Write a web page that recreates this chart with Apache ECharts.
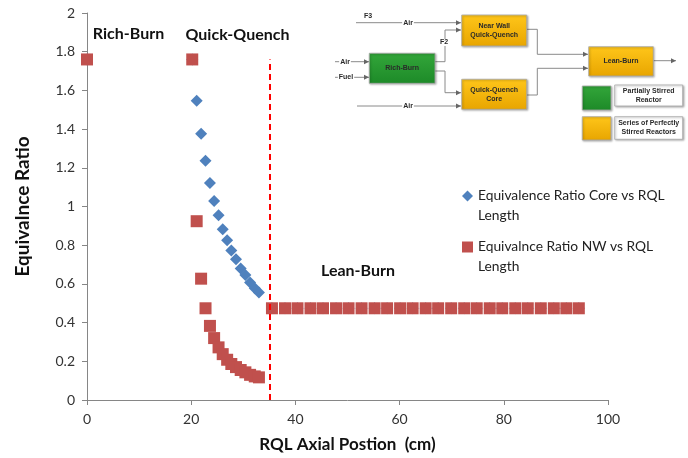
<!DOCTYPE html>
<html>
<head>
<meta charset="utf-8">
<script src="https://cdn.jsdelivr.net/npm/echarts@6/dist/echarts.min.js"></script>
<style>html,body{margin:0;padding:0;background:#fff}#c{width:688px;height:458px}</style>
</head>
<body>
<div id="c"></div>
<script>
// Positions along the RQL (cm)
var xRich = [0];
var xQuench = [20.2, 21.05, 21.9, 22.75, 23.6, 24.4, 25.25, 26.05, 26.9, 27.7, 28.6, 29.5, 30.4, 31.3, 32.2, 33.0];
var xLean = [35.5, 38.0, 40.4, 42.9, 45.3, 47.8, 50.2, 52.7, 55.2, 57.6, 60.1, 62.5, 65.0, 67.4, 69.9, 72.4, 74.8, 77.3, 79.7, 82.2, 84.6, 87.1, 89.6, 92.0, 94.4];

// Equivalence ratios
var coreRich = [1.76];
var coreQuench = [1.76, 1.546, 1.376, 1.237, 1.122, 1.029, 0.955, 0.883, 0.826, 0.773, 0.727, 0.679, 0.646, 0.607, 0.577, 0.555];
var coreLean = [0.474, 0.474, 0.474, 0.474, 0.474, 0.474, 0.474, 0.474, 0.474, 0.474, 0.474, 0.474, 0.474, 0.474, 0.474, 0.474, 0.474, 0.474, 0.474, 0.474, 0.474, 0.474, 0.474, 0.474, 0.474];
var nwRich = [1.76];
var nwQuench = [1.76, 0.924, 0.627, 0.474, 0.383, 0.320, 0.272, 0.237, 0.208, 0.186, 0.170, 0.155, 0.143, 0.130, 0.122, 0.117];
var nwLean = [0.474, 0.474, 0.474, 0.474, 0.474, 0.474, 0.474, 0.474, 0.474, 0.474, 0.474, 0.474, 0.474, 0.474, 0.474, 0.474, 0.474, 0.474, 0.474, 0.474, 0.474, 0.474, 0.474, 0.474, 0.474];

var boundaryX = 35;
var boundaryTop = 1.76;

var xTicks = {min: 0, max: 100, interval: 20};
var yTicks = {min: 0, max: 2, interval: 0.2};

var coreName = 'Equivalence Ratio Core vs RQL Length';
var nwName = 'Equivalnce Ratio NW vs RQL Length';

function pairs(xs, ys) { return xs.map(function (x, i) { return [x, ys[i]]; }); }
var coreData = pairs(xRich, coreRich).concat(pairs(xQuench, coreQuench), pairs(xLean, coreLean));
var nwData = pairs(xRich, nwRich).concat(pairs(xQuench, nwQuench), pairs(xLean, nwLean));

var FONT = 'Lato';
var LINE = '#8a8a8a';

// ---------- flow diagram graphics ----------
var g = [];
function orangeFill() {
  return {type: 'linear', x: 0, y: 0, x2: 0, y2: 1, colorStops: [{offset: 0, color: '#ffc61a'}, {offset: 1, color: '#e8a500'}]};
}
function greenFill() {
  return {type: 'linear', x: 0, y: 0, x2: 0, y2: 1, colorStops: [{offset: 0, color: '#33a63a'}, {offset: 1, color: '#1d8a28'}]};
}
function box(x, y, w, h, fill, text, stroke) {
  g.push({type: 'rect', shape: {x: x, y: y, width: w, height: h}, z: 100,
    style: {fill: fill, stroke: stroke || '#a8a8a8', lineWidth: 0.8, shadowBlur: 2, shadowOffsetX: 1, shadowOffsetY: 1, shadowColor: 'rgba(0,0,0,0.3)'}});
  if (text) {
    g.push({type: 'text', x: x + w / 2, y: y + h / 2, z: 101,
      style: {text: text, fill: '#2a2a2a', font: 'bold 7px "Liberation Sans", Arial', align: 'center', verticalAlign: 'middle', lineHeight: 9}});
  }
}
function wire(points, arrow) {
  g.push({type: 'polyline', shape: {points: points}, z: 99, style: {stroke: LINE, lineWidth: 1, fill: null}});
  if (arrow) {
    var p = points[points.length - 1];
    g.push({type: 'polygon', shape: {points: [[p[0], p[1]], [p[0] - 5, p[1] - 2.5], [p[0] - 5, p[1] + 2.5]]}, z: 99, style: {fill: '#666'}});
  }
}
function label(x, y, t, bg) {
  g.push({type: 'text', x: x, y: y, z: 102,
    style: {text: t, fill: '#2a2a2a', font: 'bold 7px "Liberation Sans", Arial', align: 'center', verticalAlign: 'middle',
      backgroundColor: bg ? '#fff' : null, padding: bg ? [0, 1] : 0}});
}

// wires
wire([[356, 22.7], [461, 22.7]], true);
label(368, 16.5, 'F3', false);
label(408, 22.7, 'Air', true);
wire([[335, 61.7], [369, 61.7]], true);
label(345, 61.7, 'Air', true);
wire([[335, 77.3], [369, 77.3]], true);
label(346, 77.3, 'Fuel', true);
wire([[435, 61.7], [445, 61.7], [445, 30], [461, 30]], true);
label(444, 42.5, 'F2', true);
wire([[435, 71], [445, 71], [445, 92.7], [461, 92.7]], true);
wire([[357, 106], [461, 106]], true);
label(408, 106, 'Air', true);
wire([[527, 29.3], [537.3, 29.3], [537.3, 54.3], [588, 54.3]], true);
wire([[527, 95], [537.3, 95], [537.3, 68.3], [588, 68.3]], true);
wire([[653.5, 60.7], [676, 60.7]], true);

// boxes
box(461.7, 15, 65, 31, orangeFill(), 'Near Wall\nQuick-Quench');
box(369.3, 53.3, 65.7, 30, greenFill(), 'Rich-Burn');
box(461.7, 79.3, 65, 30, orangeFill(), 'Quick-Quench\nCore');
box(588.7, 46.7, 64.6, 29.3, orangeFill(), 'Lean-Burn');
box(582.3, 86, 28.7, 24, greenFill(), '');
box(614.7, 85, 68, 21, '#fff', 'Partially Stirred\nReactor');
box(582.3, 116.7, 28.7, 23.3, orangeFill(), '');
box(614.7, 116.7, 68, 22.6, '#fff', 'Series of Perfectly\nStirred Reactors');

// region annotations
function note(x, y, t) {
  g.push({type: 'text', x: x, y: y, z: 50,
    style: {text: t, fill: '#111', font: 'bold 16px ' + FONT, align: 'center', verticalAlign: 'middle'}});
}
note(128.5, 34, 'Rich-Burn');
note(237.5, 35, 'Quick-Quench');
note(358, 271, 'Lean-Burn');

var chart = echarts.init(document.getElementById('c'), null, {renderer: 'canvas'});
chart.setOption({
  animation: false,
  backgroundColor: '#fff',
  grid: {left: 87, right: 80, top: 13, bottom: 57, containLabel: false},
  xAxis: {
    type: 'value', min: xTicks.min, max: xTicks.max, interval: xTicks.interval,
    name: 'RQL Axial Postion  (cm)', nameLocation: 'middle', nameGap: 36,
    nameTextStyle: {fontFamily: FONT, fontWeight: 'bold', fontSize: 17, color: '#111'},
    axisLine: {show: true, lineStyle: {color: '#868686'}},
    axisTick: {show: true, length: 5, lineStyle: {color: '#868686'}},
    axisLabel: {fontFamily: FONT, fontSize: 14, color: '#333', margin: 12},
    splitLine: {show: false}
  },
  yAxis: {
    type: 'value', min: yTicks.min, max: yTicks.max, interval: yTicks.interval,
    name: 'Equivalnce Ratio', nameLocation: 'middle', nameGap: 55,
    nameTextStyle: {fontFamily: FONT, fontWeight: 'bold', fontSize: 19, color: '#111'},
    axisLine: {show: true, lineStyle: {color: '#868686'}},
    axisTick: {show: true, length: 5, lineStyle: {color: '#868686'}},
    axisLabel: {fontFamily: FONT, fontSize: 14, color: '#333', margin: 12},
    splitLine: {show: false}
  },
  legend: {
    orient: 'vertical', left: 462, top: 166, padding: 0, itemGap: -9,
    itemWidth: 11, itemHeight: 11,
    formatter: function (n) { return ' \n' + n.replace(/ Length$/, '\nLength'); },
    textStyle: {fontFamily: FONT, fontSize: 13.8, color: '#222', lineHeight: 20},
    data: [{name: coreName, icon: 'diamond'}, {name: nwName, icon: 'rect'}]
  },
  graphic: g,
  series: [
    {
      name: coreName, type: 'scatter', data: coreData, symbol: 'diamond', symbolSize: 12,
      itemStyle: {color: '#4f81bd', opacity: 1}, z: 2
    },
    {
      name: nwName, type: 'scatter', data: nwData, symbol: 'rect', symbolSize: 12,
      itemStyle: {color: '#c0504d', opacity: 1}, z: 3,
      markLine: {
        silent: true, symbol: 'none', label: {show: false},
        lineStyle: {color: '#ff0000', type: [6, 4], width: 2},
        data: [[{coord: [boundaryX, 0]}, {coord: [boundaryX, boundaryTop]}]]
      }
    }
  ]
});
</script>
</body>
</html>
